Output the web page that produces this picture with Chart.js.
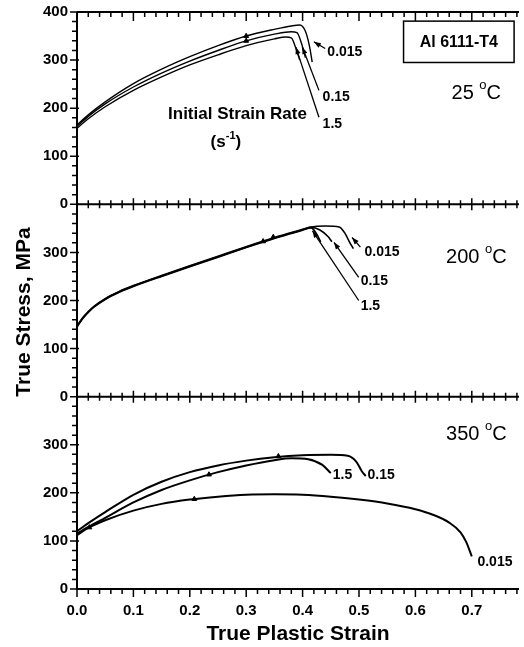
<!DOCTYPE html>
<html>
<head>
<meta charset="utf-8">
<script src="https://cdn.jsdelivr.net/npm/chart.js@4.4.1/dist/chart.umd.min.js"></script>
<style>
	html, body { margin: 0; padding: 0; background: #fff; overflow: hidden; }
</style>
</head>
<body>
<canvas id="stressChart" width="524" height="647"></canvas>
<script>
// Tick labels
const xTicks = [0, 0.1, 0.2, 0.3, 0.4, 0.5, 0.6, 0.7];
const yTicksTop = [0, 100, 200, 300, 400];
const yTicksMid = [0, 100, 200, 300];
const yTicksBot = [0, 100, 200, 300];
const rates = ['0.015', '0.15', '1.5'];

// 25 C
const x25a = [0, 0.02, 0.05, 0.1, 0.15, 0.2, 0.25, 0.3, 0.35, 0.38, 0.395, 0.405, 0.412, 0.417];
const s25a = [165, 186, 213, 251, 281, 307, 330, 350, 364, 371, 373, 360, 330, 296];
const x25b = [0, 0.02, 0.05, 0.1, 0.15, 0.2, 0.25, 0.3, 0.35, 0.38, 0.39, 0.398, 0.405];
const s25b = [162, 183, 209, 244, 273, 298, 320, 340, 354, 359, 357, 335, 305];
const x25c = [0, 0.02, 0.05, 0.1, 0.15, 0.2, 0.25, 0.3, 0.35, 0.37, 0.38, 0.388, 0.395];
const s25c = [158, 178, 203, 237, 265, 290, 311, 330, 344, 348, 346, 325, 300];

// 200 C
const x200a = [0, 0.01, 0.02, 0.03, 0.05, 0.075, 0.1, 0.15, 0.2, 0.25, 0.3, 0.35, 0.4, 0.415, 0.44, 0.465, 0.475, 0.483, 0.49];
const s200a = [147, 164, 177, 188, 204, 219, 231, 252, 272, 292, 312, 331, 348, 353, 355, 353, 340, 322, 308];
const x200b = [0, 0.01, 0.02, 0.03, 0.05, 0.075, 0.1, 0.15, 0.2, 0.25, 0.3, 0.35, 0.4, 0.415, 0.43, 0.445, 0.452];
const s200b = [146, 163, 176, 187, 203, 218, 230, 251, 271, 291, 311, 330, 347, 352, 347, 333, 322];
const x200c = [0, 0.01, 0.02, 0.03, 0.05, 0.075, 0.1, 0.15, 0.2, 0.25, 0.3, 0.35, 0.4, 0.415, 0.425, 0.432];
const s200c = [145, 162, 175, 186, 202, 217, 229, 250, 270, 290, 310, 329, 346, 351, 338, 322];

// 350 C
const x350a = [0, 0.02, 0.05, 0.1, 0.15, 0.2, 0.25, 0.3, 0.35, 0.4, 0.45, 0.5, 0.55, 0.6, 0.63, 0.66, 0.68, 0.69, 0.7];
const s350a = [112, 127, 143, 163, 177, 186, 192, 196, 197, 196, 192, 186, 178, 166, 155, 138, 118, 98, 68];
const x350b = [0, 0.02, 0.05, 0.1, 0.15, 0.2, 0.25, 0.3, 0.35, 0.4, 0.45, 0.48, 0.495, 0.505, 0.512];
const s350b = [120, 137, 160, 196, 223, 243, 257, 267, 274, 278, 279, 277, 265, 245, 235];
const x350c = [0, 0.02, 0.05, 0.1, 0.15, 0.2, 0.25, 0.3, 0.35, 0.38, 0.41, 0.435, 0.45];
const s350c = [115, 129, 148, 180, 206, 226, 243, 257, 268, 272, 270, 258, 241];

// triangle marks on the curves
const mark25 = [{x: 0.3, y: 350}, {x: 0.3, y: 340}];
const mark200 = [{x: 0.33, y: 323}, {x: 0.348, y: 332}];
const mark350 = [{x: 0.022, y: 128}, {x: 0.208, y: 187}, {x: 0.234, y: 238}, {x: 0.357, y: 276}];

const FONT = "'Liberation Sans', Arial, Helvetica, sans-serif";
const X_MAX = 0.7837;

Chart.defaults.font.family = FONT;
Chart.defaults.color = '#000';

function pts(xs, ys) {
	return xs.map((x, i) => ({x: x, y: ys[i]}));
}

function curve(label, axis, xs, ys, width) {
	return {
		label: label,
		yAxisID: axis,
		data: pts(xs, ys),
		borderColor: '#000',
		borderWidth: width,
		pointRadius: 0,
		fill: false,
		cubicInterpolationMode: 'monotone'
	};
}

function marks(label, axis, data) {
	return {
		label: label,
		yAxisID: axis,
		data: data,
		showLine: false,
		pointStyle: 'triangle',
		pointRadius: 2.8,
		backgroundColor: '#000',
		borderColor: '#000',
		borderWidth: 1
	};
}

function panelAxis(ticks, withTitle) {
	return {
		type: 'linear',
		position: 'left',
		stack: 'panels',
		stackWeight: 1,
		min: 0,
		max: 400,
		// tick marks are drawn by the frame plugin; tickLength only spaces the labels
		grid: { display: false, drawTicks: true, tickLength: 6 },
		border: { display: false },
		ticks: { font: { size: 15, weight: 'bold' }, padding: 3, color: '#000' },
		afterBuildTicks: s => { s.ticks = ticks.map(v => ({value: v})); },
		afterFit: s => { s.width = 77; },
		title: {
			display: withTitle,
			text: 'True Stress, MPa',
			align: 'start',
			color: '#000',
			font: { size: 21, weight: 'bold' },
			padding: { top: 12, bottom: 0 }
		}
	};
}

// text pieces with superscripts, centred on (cx, cy)
function drawParts(ctx, parts, cx, cy, align) {
	let total = 0;
	parts.forEach(p => {
		ctx.font = (p.bold ? 'bold ' : '') + p.size + 'px ' + FONT;
		p.w = ctx.measureText(p.t).width;
		total += p.w;
	});
	let x = align === 'left' ? cx : cx - total / 2;
	ctx.textAlign = 'left';
	ctx.textBaseline = 'middle';
	parts.forEach(p => {
		ctx.font = (p.bold ? 'bold ' : '') + p.size + 'px ' + FONT;
		ctx.fillText(p.t, x, cy - (p.rise || 0));
		x += p.w;
	});
}

function arrow(ctx, x1, y1, x2, y2) {
	ctx.beginPath();
	ctx.moveTo(x1, y1);
	ctx.lineTo(x2, y2);
	ctx.stroke();
	const a = Math.atan2(y2 - y1, x2 - x1);
	const len = 7, half = 2.6;
	ctx.beginPath();
	ctx.moveTo(x2, y2);
	ctx.lineTo(x2 - len * Math.cos(a) + half * Math.sin(a), y2 - len * Math.sin(a) - half * Math.cos(a));
	ctx.lineTo(x2 - len * Math.cos(a) - half * Math.sin(a), y2 - len * Math.sin(a) + half * Math.cos(a));
	ctx.closePath();
	ctx.fill();
}

// leader lines and labels, in data units of each panel
const notes = {
	yTop: {
		arrows: [[0.44, 324, 0.42, 338], [0.429, 237, 0.3995, 327], [0.429, 181, 0.388, 327]],
		labels: [[0.4439, 317, rates[0]], [0.4355, 222, rates[1]], [0.4355, 166, rates[2]]]
	},
	yMid: {
		arrows: [[0.5025, 311, 0.4877, 331], [0.4995, 248, 0.4556, 321], [0.4995, 200, 0.4175, 345]],
		labels: [[0.5098, 300, rates[0]], [0.503, 240, rates[1]], [0.503, 188, rates[2]]]
	},
	yBot: {
		arrows: [],
		labels: [[0.71, 56, rates[0]], [0.515, 237, rates[1]], [0.4535, 237, rates[2]]]
	}
};

const framePlugin = {
	id: 'frame',
	afterDraw(chart) {
		const ctx = chart.ctx;
		const xs = chart.scales.x;
		const left = chart.chartArea.left;
		const right = chart.chartArea.right;
		const pTop = chart.scales.yTop, pMid = chart.scales.yMid, pBot = chart.scales.yBot;
		const panels = [pTop, pMid, pBot];
		ctx.save();
		ctx.strokeStyle = '#000';
		ctx.fillStyle = '#000';

		// axis lines
		ctx.lineWidth = 2;
		ctx.beginPath();
		ctx.moveTo(left, pTop.top);
		ctx.lineTo(right, pTop.top);
		panels.forEach(p => {
			const yb = p.getPixelForValue(0);
			ctx.moveTo(left, p.top);
			ctx.lineTo(left, yb);
			ctx.moveTo(left, yb);
			ctx.lineTo(right, yb);
		});
		ctx.stroke();

		// x ticks on every panel edge
		ctx.lineWidth = 1.5;
		const edges = [
			{y: pTop.top, up: [0, 0], down: [5, 9]},
			{y: pTop.getPixelForValue(0), up: [4, 6], down: [4, 6]},
			{y: pMid.getPixelForValue(0), up: [4, 6], down: [4, 6]},
			{y: pBot.getPixelForValue(0), up: [0, 0], down: [5, 8]}
		];
		ctx.beginPath();
		for (let i = 0; i * 0.02 <= X_MAX; i++) {
			const px = xs.getPixelForValue(i * 0.02);
			const k = i % 5 === 0 ? 1 : 0;
			edges.forEach(e => {
				ctx.moveTo(px, e.y - e.up[k]);
				ctx.lineTo(px, e.y + e.down[k]);
			});
		}
		// y ticks
		panels.forEach(p => {
			for (let v = 0; v <= 400; v += 20) {
				const py = p.getPixelForValue(v);
				const major = v % 100 === 0;
				ctx.moveTo(left - (major ? 7 : 5), py);
				ctx.lineTo(left + (major ? 2 : 0), py);
			}
		});
		ctx.stroke();

		// leader lines and rate labels
		ctx.lineWidth = 1.3;
		Object.keys(notes).forEach(id => {
			const p = chart.scales[id];
			notes[id].arrows.forEach(a => {
				arrow(ctx, xs.getPixelForValue(a[0]), p.getPixelForValue(a[1]),
					xs.getPixelForValue(a[2]), p.getPixelForValue(a[3]));
			});
			notes[id].labels.forEach(l => {
				drawParts(ctx, [{t: l[2], size: 14, bold: true}],
					xs.getPixelForValue(l[0]), p.getPixelForValue(l[1]), 'left');
			});
		});

		// alloy box
		const bx1 = xs.getPixelForValue(0.579), bx2 = xs.getPixelForValue(0.775);
		const by1 = pTop.getPixelForValue(381), by2 = pTop.getPixelForValue(295);
		ctx.lineWidth = 1.5;
		ctx.strokeRect(bx1, by1, bx2 - bx1, by2 - by1);
		drawParts(ctx, [{t: 'Al 6111-T4', size: 16, bold: true}], (bx1 + bx2) / 2, (by1 + by2) / 2 + 1);

		// temperatures
		const temps = [[pTop, 230, '25 '], [pMid, 290, '200 '], [pBot, 321, '350 ']];
		temps.forEach(t => {
			drawParts(ctx, [{t: t[2], size: 20}, {t: 'o', size: 13, rise: 8}, {t: 'C', size: 20}],
				xs.getPixelForValue(0.708), t[0].getPixelForValue(t[1]));
		});

		// strain rate caption
		drawParts(ctx, [{t: 'Initial Strain Rate', size: 17, bold: true}],
			xs.getPixelForValue(0.2845), pTop.getPixelForValue(188));
		drawParts(ctx, [{t: '(s', size: 17, bold: true}, {t: '-1', size: 11, bold: true, rise: 6}, {t: ')', size: 17, bold: true}],
			xs.getPixelForValue(0.264), pTop.getPixelForValue(129));
		ctx.restore();
	}
};

new Chart(document.getElementById('stressChart'), {
	type: 'line',
	data: {
		datasets: [
			curve('25 °C ' + rates[0], 'yTop', x25a, s25a, 1.4),
			curve('25 °C ' + rates[1], 'yTop', x25b, s25b, 1.4),
			curve('25 °C ' + rates[2], 'yTop', x25c, s25c, 1.4),
			curve('200 °C ' + rates[0], 'yMid', x200a, s200a, 1.6),
			curve('200 °C ' + rates[1], 'yMid', x200b, s200b, 1.6),
			curve('200 °C ' + rates[2], 'yMid', x200c, s200c, 1.6),
			curve('350 °C ' + rates[0], 'yBot', x350a, s350a, 2),
			curve('350 °C ' + rates[1], 'yBot', x350b, s350b, 2),
			curve('350 °C ' + rates[2], 'yBot', x350c, s350c, 2),
			marks('25 °C marks', 'yTop', mark25),
			marks('200 °C marks', 'yMid', mark200),
			marks('350 °C marks', 'yBot', mark350)
		]
	},
	options: {
		responsive: false,
		animation: false,
		layout: { padding: { top: 12, right: 0, bottom: 0, left: 0 } },
		plugins: {
			legend: { display: false },
			tooltip: { enabled: false }
		},
		scales: {
			x: {
				type: 'linear',
				position: 'bottom',
				min: 0,
				max: X_MAX,
				grid: { display: false, drawTicks: false },
				border: { display: false },
				ticks: {
					font: { size: 15, weight: 'bold' },
					padding: 13,
					color: '#000',
					callback: v => v.toFixed(1)
				},
				afterBuildTicks: s => { s.ticks = xTicks.map(v => ({value: v})); },
				afterFit: s => { s.height = 58; },
				title: {
					display: true,
					text: 'True Plastic Strain',
					color: '#000',
					font: { size: 21, weight: 'bold' },
					padding: { top: 0, bottom: 0 }
				}
			},
			yBot: panelAxis(yTicksBot, false),
			yMid: panelAxis(yTicksMid, true),
			yTop: panelAxis(yTicksTop, false)
		}
	},
	plugins: [framePlugin]
});
</script>
</body>
</html>
